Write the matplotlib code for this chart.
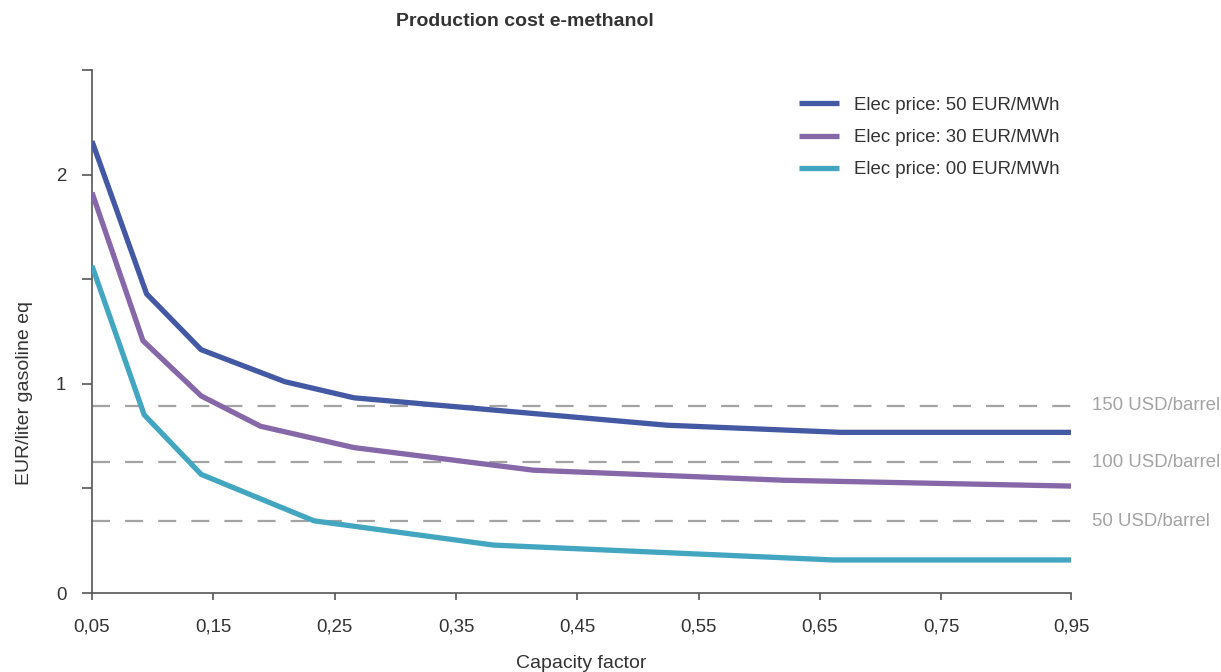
import matplotlib.pyplot as plt
from matplotlib.transforms import blended_transform_factory

# capacity factor (x) and production cost (EUR/liter gasoline eq) per electricity price
x_50 = [0.05, 0.095, 0.14, 0.209, 0.266, 0.524, 0.667, 0.857]
y_50 = [2.16, 1.43, 1.163, 1.01, 0.933, 0.802, 0.768, 0.768]

x_30 = [0.05, 0.092, 0.14, 0.189, 0.266, 0.414, 0.62, 0.857]
y_30 = [1.914, 1.206, 0.942, 0.797, 0.695, 0.587, 0.539, 0.511]

x_00 = [0.05, 0.093, 0.14, 0.233, 0.381, 0.661, 0.857]
y_00 = [1.564, 0.852, 0.567, 0.345, 0.229, 0.158, 0.158]

series_labels = ['Elec price: 50 EUR/MWh', 'Elec price: 30 EUR/MWh', 'Elec price: 00 EUR/MWh']
series_colors = ['#4459a3', '#8667a8', '#43a6c1']

# oil price reference levels
barrel_levels = [0.895, 0.626, 0.343]
barrel_labels = ['150 USD/barrel', '100 USD/barrel', '50 USD/barrel']

tick_pos = [0.05, 0.15, 0.25, 0.35, 0.45, 0.55, 0.65, 0.75, 0.857]
tick_labels = ['0,05', '0,15', '0,25', '0,35', '0,45', '0,55', '0,65', '0,75', '0,95']

plt.rcParams['font.family'] = ['Liberation Sans', 'DejaVu Sans']
text_col = '#333333'
grey = '#a3a3a3'

fig = plt.figure(figsize=(12.21, 6.72), dpi=100)
ax = fig.add_axes([92/1221, 1-593/672, (1071-92)/1221, (593-70)/672])

for lvl in barrel_levels:
    ax.axhline(lvl, color=grey, lw=1.6, dashes=(8.1, 6.8), zorder=1)

lines = []
for xs, ys, lab, col in zip([x_50, x_30, x_00], [y_50, y_30, y_00], series_labels, series_colors):
    ln, = ax.plot(xs, ys, color=col, lw=3.8, label=lab, zorder=3,
                  solid_joinstyle='miter', solid_capstyle='butt')
    lines.append(ln)

trans = blended_transform_factory(ax.transAxes, ax.transData)
for lvl, lab in zip(barrel_levels, barrel_labels):
    ax.text(1.021, lvl, lab, transform=trans, color=grey, fontsize=13.4, va='center', ha='left')

ax.set_xlim(0.05, 0.857)
ax.set_ylim(0, 2.5)
ax.set_xticks(tick_pos)
ax.set_xticklabels(tick_labels)
ax.set_yticks([0, 1, 2])
ax.set_yticks([0.5, 1.5, 2.5], minor=True)

for s in ['top', 'right']:
    ax.spines[s].set_visible(False)
for s in ['left', 'bottom']:
    ax.spines[s].set_color('#555555')
    ax.spines[s].set_linewidth(1.2)

ax.tick_params(axis='both', which='both', colors='#555555', labelcolor=text_col, labelsize=13.4, width=1.2)
ax.tick_params(axis='y', which='both', length=7, pad=11.5)
ax.tick_params(axis='x', which='both', length=5, pad=13.5)

fig.text(525/1221, 1-22/672, 'Production cost e-methanol', ha='center', va='center',
         fontsize=14, fontweight='bold', color=text_col)
fig.text(581/1221, 1-663/672, 'Capacity factor', ha='center', va='center', fontsize=14, color=text_col)
fig.text(25/1221, 1-393/672, 'EUR/liter gasoline eq', ha='center', va='center', rotation=90,
         fontsize=14, color=text_col)

leg = ax.legend(handles=lines, loc='upper left', bbox_to_anchor=(782/1221, 1-80/672),
                bbox_transform=fig.transFigure, frameon=False, fontsize=13.4,
                handlelength=2.15, handletextpad=0.8, labelspacing=0.82)
for t in leg.get_texts():
    t.set_color(text_col)

fig.savefig('out.png', dpi=100)
